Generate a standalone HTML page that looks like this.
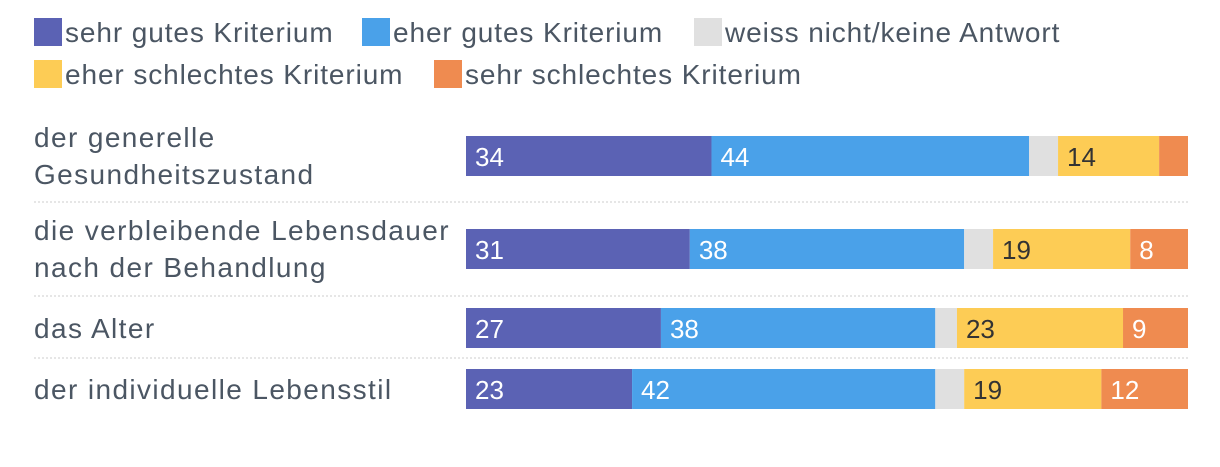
<!DOCTYPE html>
<html><head><meta charset="utf-8"><style>
body{margin:0;background:#fff;width:1220px;height:462px;overflow:hidden;font-family:"Liberation Sans",sans-serif;}
svg text{font-family:"Liberation Sans",sans-serif;}
</style></head><body>
<svg id="chart" width="1220" height="462"></svg>
<script>
const categories=[["der generelle","Gesundheitszustand"],["die verbleibende Lebensdauer","nach der Behandlung"],["das Alter"],["der individuelle Lebensstil"]];
const seriesNames=["sehr gutes Kriterium","eher gutes Kriterium","weiss nicht/keine Antwort","eher schlechtes Kriterium","sehr schlechtes Kriterium"];
const sehrGut=[34,31,27,23];
const eherGut=[44,38,38,42];
const weissNicht=[4,4,3,4];
const eherSchlecht=[14,19,23,19];
const sehrSchlecht=[4,8,9,12];
const showLabel=[[true,true,false,true,false],[true,true,false,true,true],[true,true,false,true,true],[true,true,false,true,true]];
const colors=["#5b62b4","#4aa1e9","#e0e0e0","#fdcc55","#ef8b50"];
const textColors=["#fff","#fff","#333","#333","#fff"];
const rowsTop=[136,229,308,369];
const barH=40;
const NS="http://www.w3.org/2000/svg";
const svg=document.getElementById('chart');
const x0=466,x1=1188;
const xs=v=>x0+(x1-x0)*v/100;
function mk(t,a){const e=document.createElementNS(NS,t);for(const k in a)e.setAttribute(k,a[k]);svg.appendChild(e);return e;}
const legPos=[[34,18],[362,18],[694,18],[34,60],[434,60]];
seriesNames.forEach((n,i)=>{
 const r=mk('rect',{x:legPos[i][0],y:legPos[i][1],width:28,height:28,fill:colors[i]});
 
 
 const t=mk('text',{x:legPos[i][0]+31,y:legPos[i][1]+24,'font-size':28,'letter-spacing':0.9,fill:'#4b5663'});
 t.textContent=n;
 
 
});
[202,296,358].forEach((y,i)=>{
 const l=mk('line',{x1:34,x2:1188,y1:y,y2:y,stroke:'#ccc','stroke-width':1,'stroke-dasharray':'2,2'});
 
 
});
const series=[sehrGut,eherGut,weissNicht,eherSchlecht,sehrSchlecht];
categories.forEach((c,r)=>{
 const y=rowsTop[r];
 const lines=c.length;
 c.forEach((ln,k)=>{
  const t=mk('text',{x:34,y:(lines===2? y+11+k*37 : y+30),'font-size':28,'letter-spacing':1.4,fill:'#4b5663'});
  t.textContent=ln;
  
  
 });
 let acc=0;
 series.forEach((s,i)=>{
  const v=s[r];
  const rc=mk('rect',{x:xs(acc),y:y,width:xs(acc+v)-xs(acc),height:barH,fill:colors[i]});
  
  
  if(showLabel[r][i]){
   const t=mk('text',{x:xs(acc)+9,y:y+30,'font-size':26,fill:textColors[i]});
   t.textContent=v;
   
   
  }
  acc+=v;
 });
});
</script>
</body></html>
